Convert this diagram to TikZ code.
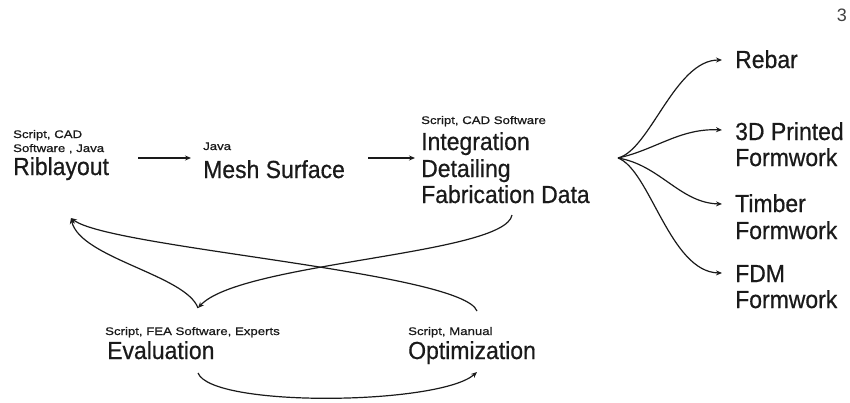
\documentclass[tikz,border=0pt]{standalone}
\usepackage{fontspec}
\setmainfont{Liberation Sans}
\newfontfamily\bigfam[FakeStretch=0.93,FakeBold=0.6]{Liberation Sans}
\newfontfamily\smallfam[FakeStretch=1.2,FakeBold=0.8]{Liberation Sans}
\usetikzlibrary{arrows.meta}
\definecolor{ink}{HTML}{1A1A1A}
\begin{document}
\begin{tikzpicture}[x=1pt,y=-1pt,
  big/.style={anchor=base west, inner sep=0pt, font=\bigfam\fontsize{24.7}{27}\selectfont, text=ink},
  small/.style={anchor=base west, inner sep=0pt, font=\smallfam\fontsize{11}{12}\selectfont, text=ink},
  arr/.style={-{Stealth[length=6pt,width=5pt]}, line width=1.2pt, draw=ink}]
\useasboundingbox (0,0) rectangle (850,402);
% labels
\node[small] (ribs1) at (13,138) {Script, CAD};
\node[small] (ribs2) at (13,152) {Software , Java};
\node[big] (rib) at (13,175) {Riblayout};
\node[small] (meshs) at (203,150) {Java};
\node[big] (mesh) at (203,178) {Mesh Surface};
\node[small] (ints) at (421,124) {Script, CAD Software};
\node[big] (int) at (421,150) {Integration};
\node[big] (det) at (421,177) {Detailing};
\node[big] (fab) at (421,203) {Fabrication Data};
\node[big] (rebar) at (735,68) {Rebar};
\node[big] (p3d) at (735,140) {3D Printed};
\node[big] (p3d2) at (735,166) {Formwork};
\node[big] (tim) at (735,212) {Timber};
\node[big] (tim2) at (735,239) {Formwork};
\node[big] (fdm) at (735,282) {FDM};
\node[big] (fdm2) at (735,308) {Formwork};
\node[small] (evals) at (105,335) {Script, FEA Software, Experts};
\node[big] (eval) at (107,359) {Evaluation};
\node[small] (opts) at (408,335) {Script, Manual};
\node[big] (opt) at (408,359) {Optimization};
\node[anchor=base east, inner sep=0pt, font=\fontsize{18}{20}\selectfont, text=black!75] (pg) at (847,21) {3};
% connector ends
\coordinate (a1s) at ([shift={(29,-17)}]rib.base east);
\coordinate (a1e) at ([shift={(-12,-20)}]mesh.base west);
\coordinate (a2s) at ([shift={(23,-20)}]mesh.base east);
\coordinate (a2e) at ([shift={(-6,8)}]int.base west);
\coordinate (fan) at (618,158);
\coordinate (tRebar) at ([shift={(-13,-8)}]rebar.base west);
\coordinate (tP3d) at ([shift={(-13,-10)}]p3d.base west);
\coordinate (tTim) at ([shift={(-13,-8)}]tim.base west);
\coordinate (tFdm) at ([shift={(-13,-9)}]fdm.base west);
\coordinate (fabB) at ([shift={(91,12)}]fab.base west);
\coordinate (evalT) at ([shift={(91,-51)}]eval.base west);
\coordinate (ribT) at ([shift={(58,43)}]rib.base west);
\coordinate (optT) at ([shift={(69,-48)}]opt.base west);
\coordinate (evalB) at ([shift={(91,14)}]eval.base west);
\coordinate (optB) at ([shift={(69,13)}]opt.base west);
% connectors
\draw[arr] (a1s) -- (a1e);
\draw[arr] (a2s) -- (a2e);
\draw[arr] (fan) .. controls (650,150) and (675,60) .. (tRebar);
\draw[arr] (fan) .. controls (655,150) and (680,128) .. (tP3d);
\draw[arr] (fan) .. controls (660,165) and (680,203) .. (tTim);
\draw[arr] (fan) .. controls (650,170) and (670,272) .. (tFdm);
\draw[arr] (fabB) .. controls (505,255) and (240,262) .. (evalT);
\draw[arr] (evalT) .. controls (186,275) and (80,258) .. (ribT);
\draw[arr] (optT) .. controls (462,272) and (110,248) .. (ribT);
\draw[arr] (evalB) .. controls (212,408) and (440,405) .. (optB);
\end{tikzpicture}
\end{document}
